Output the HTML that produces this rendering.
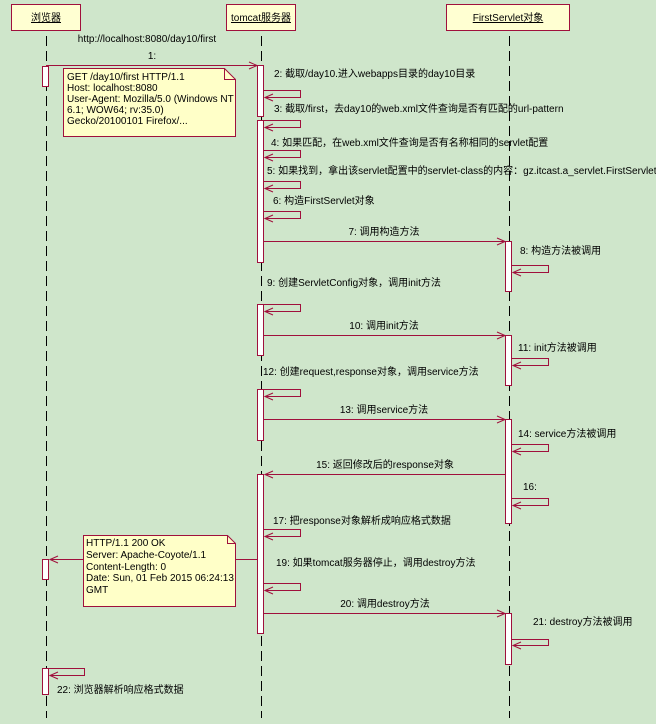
<!DOCTYPE html>
<html><head><meta charset="utf-8"><style>
html,body{margin:0;padding:0;background:#cfe6cb;}
svg{display:block;}
text{font-family:"Liberation Sans","Noto Sans CJK SC",sans-serif;font-size:10px;fill:#000;}
</style></head><body>
<svg width="656" height="724" viewBox="0 0 656 724" xmlns="http://www.w3.org/2000/svg">
<rect width="656" height="724" fill="#cfe6cb"/>
<defs>
<marker id="a" markerWidth="10" markerHeight="8" refX="9" refY="4" orient="auto" markerUnits="userSpaceOnUse">
<path d="M1,0.5 L9,4 L1,7.5" fill="none" stroke="#a0103c" stroke-width="1"/>
</marker>
</defs>
<g stroke="#a0103c" fill="#ffffd2" stroke-width="1">
<rect x="11.5" y="4.5" width="69" height="26"/>
<rect x="226.5" y="4.5" width="69" height="26"/>
<rect x="446.5" y="4.5" width="123" height="26"/>
</g>
<text x="46" y="21" text-anchor="middle" text-decoration="underline">浏览器</text>
<text x="261" y="21" text-anchor="middle" text-decoration="underline">tomcat服务器</text>
<text x="508" y="21" text-anchor="middle" text-decoration="underline">FirstServlet对象</text>
<g stroke="#000" stroke-width="1" stroke-dasharray="10,5">
<line x1="46.5" y1="36" x2="46.5" y2="718"/>
<line x1="261.5" y1="36" x2="261.5" y2="718"/>
<line x1="509.5" y1="36" x2="509.5" y2="718"/>
</g>
<g stroke="#a0103c" stroke-width="1" fill="none">
<line x1="46" y1="65.5" x2="257" y2="65.5" marker-end="url(#a)"/>
<line x1="264" y1="241.5" x2="505" y2="241.5" marker-end="url(#a)"/>
<line x1="264" y1="335.5" x2="505" y2="335.5" marker-end="url(#a)"/>
<line x1="264" y1="419.5" x2="505" y2="419.5" marker-end="url(#a)"/>
<line x1="505" y1="474.5" x2="265" y2="474.5" marker-end="url(#a)"/>
<line x1="264" y1="613.5" x2="505" y2="613.5" marker-end="url(#a)"/>
<line x1="236" y1="559.5" x2="258" y2="559.5"/>
<line x1="83" y1="559.5" x2="50" y2="559.5" marker-end="url(#a)"/>
<path d="M264,90.5 H300.5 V97.5 H265" marker-end="url(#a)"/>
<path d="M264,120.5 H300.5 V127.5 H265" marker-end="url(#a)"/>
<path d="M264,150.5 H300.5 V157.5 H265" marker-end="url(#a)"/>
<path d="M264,181.5 H300.5 V188.5 H265" marker-end="url(#a)"/>
<path d="M264,211.5 H300.5 V218.5 H265" marker-end="url(#a)"/>
<path d="M264,304.5 H300.5 V311.5 H265" marker-end="url(#a)"/>
<path d="M264,389.5 H300.5 V396.5 H265" marker-end="url(#a)"/>
<path d="M264,529.5 H300.5 V536.5 H265" marker-end="url(#a)"/>
<path d="M264,583.5 H300.5 V590.5 H265" marker-end="url(#a)"/>
<path d="M512,265.5 H548.5 V272.5 H513" marker-end="url(#a)"/>
<path d="M512,358.5 H548.5 V365.5 H513" marker-end="url(#a)"/>
<path d="M512,444.5 H548.5 V451.5 H513" marker-end="url(#a)"/>
<path d="M512,498.5 H548.5 V505.5 H513" marker-end="url(#a)"/>
<path d="M512,639.5 H548.5 V645.5 H513" marker-end="url(#a)"/>
<path d="M49,668.5 H84.5 V675.5 H50" marker-end="url(#a)"/>
</g>
<g stroke="#a0103c" fill="#fff" stroke-width="1">
<rect x="42.5" y="66.5" width="6" height="20"/>
<rect x="42.5" y="559.5" width="6" height="20"/>
<rect x="42.5" y="668.5" width="6" height="26"/>
<rect x="257.5" y="65.5" width="6" height="51"/>
<rect x="257.5" y="120.5" width="6" height="142"/>
<rect x="257.5" y="304.5" width="6" height="51"/>
<rect x="257.5" y="389.5" width="6" height="51"/>
<rect x="257.5" y="474.5" width="6" height="159"/>
<rect x="505.5" y="241.5" width="6" height="50"/>
<rect x="505.5" y="335.5" width="6" height="50"/>
<rect x="505.5" y="419.5" width="6" height="104"/>
<rect x="505.5" y="613.5" width="6" height="51"/>
</g>
<g stroke="#a0103c" fill="#ffffc8" stroke-width="1">
<path d="M63.5,68.5 H224.5 L235.5,79.5 V136.5 H63.5 Z"/>
<path d="M224.5,68.5 V79.5 H235.5" fill="none"/>
<path d="M83.5,535.5 H227.5 L235.5,543.5 V606.5 H83.5 Z"/>
<path d="M227.5,535.5 V543.5 H235.5" fill="none"/>
</g>
<text x="67" y="80">GET /day10/first HTTP/1.1</text>
<text x="67" y="91">Host: localhost:8080</text>
<text x="67" y="102">User-Agent: Mozilla/5.0 (Windows NT</text>
<text x="67" y="113">6.1; WOW64; rv:35.0)</text>
<text x="67" y="124">Gecko/20100101 Firefox/...</text>
<text x="86" y="546">HTTP/1.1 200 OK</text>
<text x="86" y="558">Server: Apache-Coyote/1.1</text>
<text x="86" y="570">Content-Length: 0</text>
<text x="86" y="581">Date: Sun, 01 Feb 2015 06:24:13</text>
<text x="86" y="593">GMT</text>
<text x="147" y="42" text-anchor="middle">http://localhost:8080/day10/first</text>
<text x="152" y="59" text-anchor="middle">1:</text>
<text x="274" y="77">2: 截取/day10.进入webapps目录的day10目录</text>
<text x="274" y="112">3: 截取/first，去day10的web.xml文件查询是否有匹配的url-pattern</text>
<text x="271" y="146">4: 如果匹配，在web.xml文件查询是否有名称相同的servlet配置</text>
<text x="267" y="174">5: 如果找到，拿出该servlet配置中的servlet-class的内容：gz.itcast.a_servlet.FirstServlet</text>
<text x="273" y="204">6: 构造FirstServlet对象</text>
<text x="384" y="235" text-anchor="middle">7: 调用构造方法</text>
<text x="520" y="254">8: 构造方法被调用</text>
<text x="267" y="286">9: 创建ServletConfig对象，调用init方法</text>
<text x="384" y="329" text-anchor="middle">10: 调用init方法</text>
<text x="518" y="351">11: init方法被调用</text>
<text x="263" y="375">12: 创建request,response对象，调用service方法</text>
<text x="384" y="413" text-anchor="middle">13: 调用service方法</text>
<text x="518" y="437">14: service方法被调用</text>
<text x="385" y="468" text-anchor="middle">15: 返回修改后的response对象</text>
<text x="523" y="490">16:</text>
<text x="273" y="524">17: 把response对象解析成响应格式数据</text>
<text x="276" y="566">19: 如果tomcat服务器停止，调用destroy方法</text>
<text x="385" y="607" text-anchor="middle">20: 调用destroy方法</text>
<text x="533" y="625">21: destroy方法被调用</text>
<text x="57" y="693">22: 浏览器解析响应格式数据</text>
</svg>
</body></html>
